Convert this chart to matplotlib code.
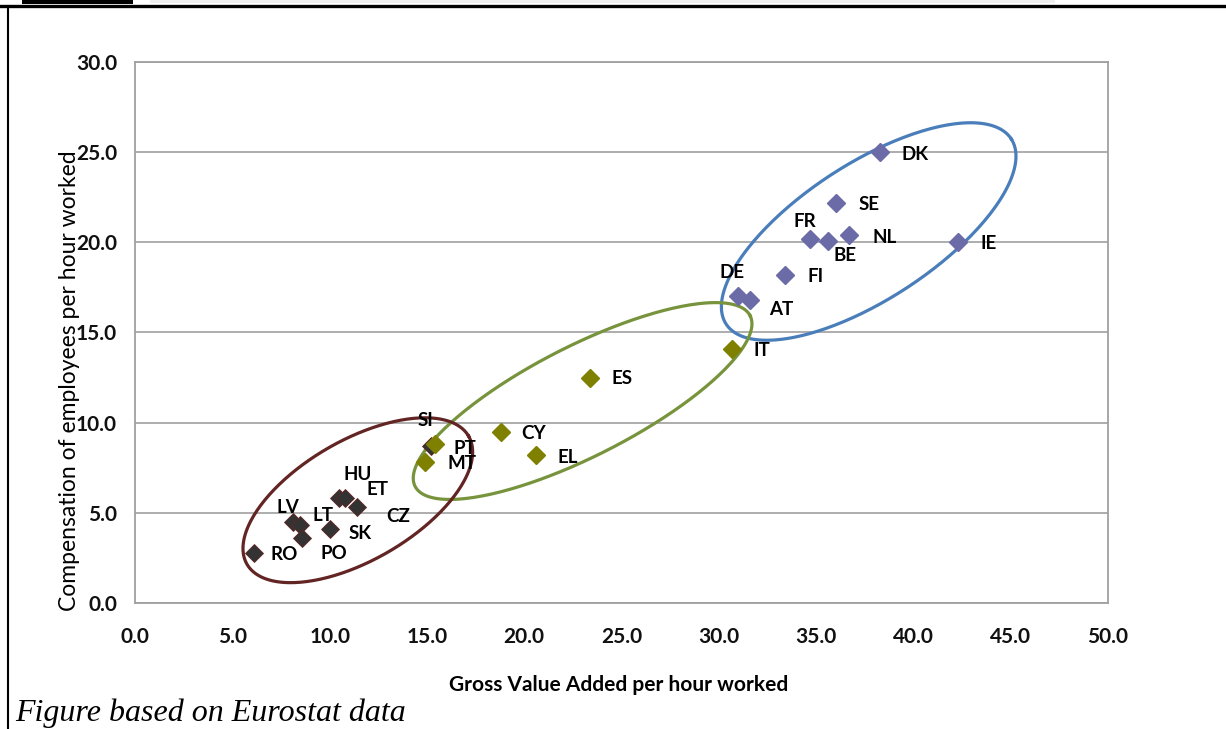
import numpy as np
import matplotlib
matplotlib.use('Agg')
import matplotlib.pyplot as plt
from matplotlib.patches import Rectangle
from matplotlib.lines import Line2D

# high productivity group (blue)
hi_countries = ['DK', 'SE', 'FR', 'BE', 'NL', 'IE', 'FI', 'DE', 'AT']
hi_gva = [38.3, 36.0, 34.7, 35.6, 36.7, 42.3, 33.4, 31.0, 31.6]
hi_comp = [25.0, 22.2, 20.2, 20.1, 20.4, 20.0, 18.2, 17.0, 16.8]

# middle group (olive)
mid_countries = ['IT', 'ES', 'CY', 'EL', 'PT', 'MT']
mid_gva = [30.7, 23.4, 18.8, 20.6, 15.4, 14.9]
mid_comp = [14.1, 12.5, 9.5, 8.2, 8.8, 7.8]

# low group (dark)
lo_countries = ['SI', 'HU', 'ET', 'CZ', 'LV', 'LT', 'SK', 'PO', 'RO']
lo_gva = [15.2, 10.5, 10.8, 11.4, 8.1, 8.5, 10.0, 8.6, 6.1]
lo_comp = [8.7, 5.8, 5.8, 5.3, 4.5, 4.3, 4.1, 3.6, 2.8]

# label offsets in pixels (dx, dy)
offsets = {
    'DK': (35, -2), 'SE': (33, -2), 'FR': (-5, 17), 'BE': (17, -15),
    'NL': (35, -2), 'IE': (30, -1), 'FI': (31, -2), 'DE': (-6, 24),
    'AT': (31, -9), 'IT': (29, -2), 'ES': (32, -1), 'CY': (33, -2),
    'EL': (32, -2), 'PT': (30, -4), 'MT': (37, -1), 'SI': (-5, 26),
    'HU': (18, 24), 'ET': (32, 9), 'CZ': (41, -9), 'LV': (-5, 14),
    'LT': (23, 10), 'SK': (31, -4), 'PO': (32, -15), 'RO': (30, -2),
}

xticks = np.arange(0, 50.1, 5)
yticks = np.arange(0, 30.1, 5)

fig = plt.figure(figsize=(12.26, 7.29), dpi=100)
ax = fig.add_axes([0.1101, 0.1728, 0.7937, 0.7422])
ax.set_xlim(0, 50)
ax.set_ylim(0, 30)

for s in ax.spines.values():
    s.set_color('#a0a0a0')
    s.set_linewidth(1.3)
ax.set_xticks(xticks)
ax.set_yticks(yticks)
ax.set_xticklabels(['%.1f' % v for v in xticks])
ax.set_yticklabels(['%.1f' % v for v in yticks])
ax.tick_params(length=0, labelsize=15, labelcolor='#111111')
ax.tick_params(axis='x', pad=17)
ax.tick_params(axis='y', pad=13)
for lab in ax.get_xticklabels() + ax.get_yticklabels():
    lab.set_fontfamily('Lato')
    lab.set_fontweight('bold')
ax.yaxis.grid(True, color='#a0a0a0', linewidth=1.2)
ax.set_axisbelow(True)

# ellipses drawn in pixel space around a centre given in data units
fig.canvas.draw()
def ellipse(cx, cy, a, b, ang, color):
    sx = ax.transData.transform((1, 0))[0] - ax.transData.transform((0, 0))[0]
    sy = ax.transData.transform((0, 1))[1] - ax.transData.transform((0, 0))[1]
    t = np.linspace(0, 2 * np.pi, 300)
    th = np.radians(ang)
    px = a * np.cos(t) * np.cos(th) - b * np.sin(t) * np.sin(th)
    py = a * np.cos(t) * np.sin(th) + b * np.sin(t) * np.cos(th)
    ax.plot(cx + px / sx, cy + py / sy, color=color, lw=2.3, zorder=2)

ellipse(37.7, 20.6, 170, 68, 33, '#4a7ebb')
ellipse(23.0, 11.2, 188, 55, 27, '#77933c')
ellipse(11.45, 5.7, 128, 60, 30, '#632523')

ax.plot(lo_gva, lo_comp, 'D', color='#333333', mec='#632523', mew=0.6, ms=9, zorder=3)
ax.plot(mid_gva, mid_comp, 'D', color='#808000', mec='#808000', ms=9, zorder=4)
ax.plot(hi_gva, hi_comp, 'D', color='#6b6ba8', mec='#6b6ba8', ms=9, zorder=4)

for names, xs, ys in [(hi_countries, hi_gva, hi_comp),
                      (mid_countries, mid_gva, mid_comp),
                      (lo_countries, lo_gva, lo_comp)]:
    for n, x, y in zip(names, xs, ys):
        ax.annotate(n, (x, y), xytext=offsets[n], textcoords='offset pixels',
                    ha='center', va='center', fontsize=13.5, fontweight='bold',
                    family='Lato', color='black', zorder=5)

fig.text(619 / 1226, 1 - 685 / 729, 'Gross Value Added per hour worked',
         ha='center', va='center', fontsize=15, fontweight='bold', family='Lato')
fig.text(70 / 1226, 1 - 381 / 729, 'Compensation of employees per hour worked',
         ha='center', va='center', rotation=90, fontsize=16.5, family='Lato')
fig.text(15 / 1226, 1 - 721 / 729, 'Figure based on Eurostat data',
         ha='left', va='baseline', fontsize=23, style='italic', family='Liberation Serif')

# page frame of the cropped document
fig.add_artist(Line2D([0, 1], [1 - 6 / 729, 1 - 6 / 729], color='black', lw=2.4))
fig.add_artist(Line2D([8 / 1226, 8 / 1226], [0, 1 - 6 / 729], color='black', lw=1.5))
fig.add_artist(Rectangle((22 / 1226, 1 - 4 / 729), 111 / 1226, 4 / 729,
                         color='black', lw=0, transform=fig.transFigure))
fig.add_artist(Rectangle((150 / 1226, 1 - 3 / 729), 905 / 1226, 3 / 729,
                         color='#eeeeee', lw=0, transform=fig.transFigure))

fig.savefig('out.png', dpi=100)
